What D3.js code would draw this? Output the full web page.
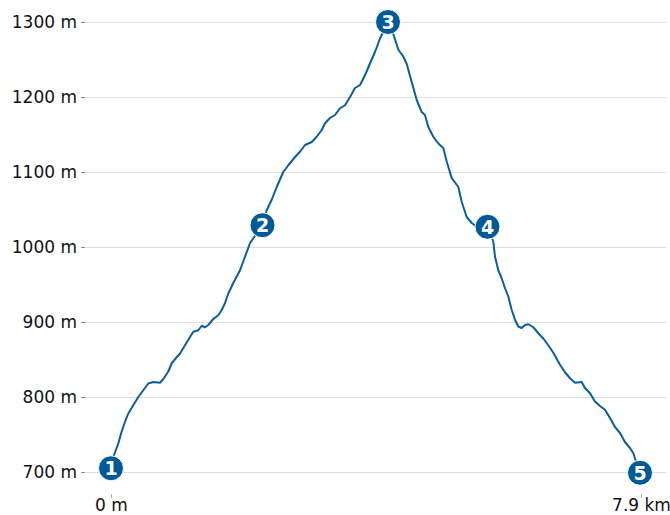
<!DOCTYPE html>
<html>
<head>
<meta charset="utf-8">
<script src="https://cdn.jsdelivr.net/npm/d3@7"></script>
<style>
  html, body { margin: 0; padding: 0; background: #fff; }
  svg { display: block; font-family: "DejaVu Sans", sans-serif; }
</style>
</head>
<body>
<svg id="chart" width="670" height="515"></svg>
<script>
// distance along the route (km)
const distanceKm = [0, 0.034, 0.109, 0.159, 0.209, 0.258, 0.332, 0.407, 0.481, 0.556, 0.631, 0.730, 0.780, 0.854, 0.905, 0.979, 1.029, 1.103, 1.178, 1.227, 1.301, 1.352, 1.401, 1.450, 1.525, 1.599, 1.650, 1.699, 1.748, 1.823, 1.923, 1.997, 2.072, 2.161, 2.258, 2.321, 2.395, 2.470, 2.568, 2.643, 2.743, 2.817, 2.892, 2.992, 3.066, 3.141, 3.190, 3.264, 3.339, 3.414, 3.488, 3.563, 3.637, 3.712, 3.786, 3.861, 3.935, 4.010, 4.059, 4.129, 4.208, 4.283, 4.357, 4.408, 4.482, 4.557, 4.631, 4.680, 4.730, 4.804, 4.879, 4.953, 5.004, 5.078, 5.177, 5.228, 5.302, 5.377, 5.451, 5.612, 5.699, 5.724, 5.773, 5.824, 5.873, 5.922, 5.973, 6.022, 6.071, 6.122, 6.171, 6.220, 6.295, 6.369, 6.444, 6.518, 6.593, 6.693, 6.767, 6.842, 6.916, 7.016, 7.065, 7.140, 7.214, 7.289, 7.363, 7.438, 7.512, 7.587, 7.661, 7.736, 7.786, 7.811, 7.885];
// elevation (m)
const elevationM = [705, 720, 738, 754, 767, 778, 789, 800, 809, 818, 820, 819, 824, 834, 845, 853, 858, 869, 880, 887, 889, 895, 893, 896, 904, 909, 916, 925, 938, 952, 969, 987, 1005, 1017, 1029, 1049, 1063, 1080, 1100, 1109, 1120, 1127, 1136, 1140, 1147, 1156, 1165, 1172, 1176, 1185, 1189, 1200, 1212, 1216, 1229, 1245, 1260, 1278, 1287, 1300, 1284, 1263, 1254, 1244, 1220, 1196, 1180, 1176, 1160, 1147, 1138, 1132, 1114, 1092, 1080, 1060, 1040, 1032, 1027, 1027, 1007, 987, 969, 958, 945, 934, 916, 903, 894, 892, 896, 897, 893, 885, 878, 869, 859, 843, 833, 825, 819, 820, 812, 805, 794, 788, 783, 772, 760, 752, 740, 732, 725, 718, 699];
// numbered waypoints
const waypointLabels = ["1", "2", "3", "4", "5"];
const waypointKm = [0, 2.258, 4.129, 5.612, 7.885];
const waypointM = [705, 1029, 1300, 1027, 699];
// axis ticks
const yTickValues = [700, 800, 900, 1000, 1100, 1200, 1300];
const xTickValues = [0, 7.9];
const xTickLabels = ["0 m", "7.9 km"];

const svg = d3.select("#chart");
const x = d3.scaleLinear().domain([0, 7.9]).range([111, 641]);
const y = d3.scaleLinear().domain([700, 1300]).range([472, 22]);

const lineColor = "#0b5e9c";
const markerColor = "#005a97";

// gridlines
svg.append("g")
  .selectAll("line")
  .data(yTickValues)
  .join("line")
  .attr("x1", 85).attr("x2", 666)
  .attr("y1", d => y(d)).attr("y2", d => y(d))
  .attr("stroke", "#dedede").attr("stroke-width", 1)
  .attr("shape-rendering", "crispEdges");

// y axis
const yAxis = svg.append("g")
  .attr("transform", "translate(85,0)")
  .call(d3.axisLeft(y).tickValues(yTickValues).tickSize(4).tickPadding(4).tickFormat(d => d + " m"));
yAxis.select(".domain").remove();
yAxis.selectAll(".tick line").attr("stroke", "#888");
yAxis.selectAll(".tick text")
  .attr("font-family", "DejaVu Sans, sans-serif")
  .attr("font-size", "17px")
  .attr("fill", "#111");

// x axis
const xAxis = svg.append("g")
  .attr("transform", "translate(0,494)")
  .call(d3.axisBottom(x).tickValues(xTickValues).tickSize(4).tickPadding(1)
    .tickFormat((d, i) => xTickLabels[i]));
xAxis.select(".domain").remove();
xAxis.selectAll(".tick line").attr("stroke", "#aaa");
xAxis.selectAll(".tick text")
  .attr("font-family", "DejaVu Sans, sans-serif")
  .attr("font-size", "17px")
  .attr("fill", "#111");

// profile line
const pts = distanceKm.map((d, i) => [d, elevationM[i]]);
svg.append("path")
  .datum(pts)
  .attr("fill", "none")
  .attr("stroke", lineColor)
  .attr("stroke-width", 2)
  .attr("stroke-linejoin", "round")
  .attr("d", d3.line().x(d => x(d[0])).y(d => y(d[1])));

// waypoint markers
const wps = waypointLabels.map((l, i) => ({ l, km: waypointKm[i], m: waypointM[i] }));
const g = svg.append("g").selectAll("g").data(wps).join("g")
  .attr("transform", d => `translate(${x(d.km)},${y(d.m)})`);
g.append("circle")
  .attr("r", 12.5)
  .attr("fill", markerColor)
  .attr("stroke", "#fff")
  .attr("stroke-width", 1);
g.append("text")
  .attr("text-anchor", "middle")
  .attr("dy", "0.36em")
  .attr("font-family", "DejaVu Sans, sans-serif")
  .attr("font-weight", "bold")
  .attr("font-size", "19px")
  .attr("fill", "#fff")
  .text(d => d.l);
</script>
</body>
</html>
